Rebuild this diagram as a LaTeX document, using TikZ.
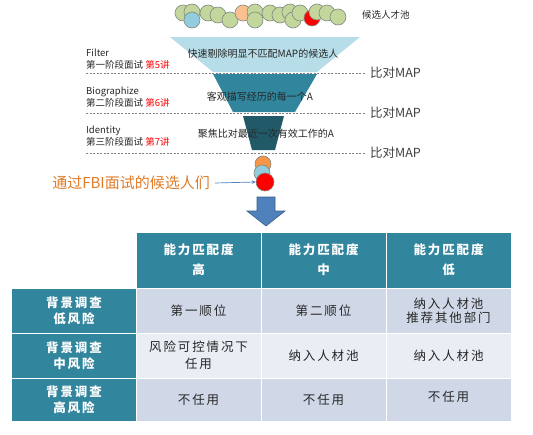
\documentclass[tikz,border=0pt]{standalone}
\usepackage{fontspec}
\setmainfont{Noto Sans CJK SC}
\newfontfamily\tabfont{Noto Sans CJK SC}[LetterSpace=15]
\usepackage{xcolor}
\usepackage{tikz}
\usetikzlibrary{arrows.meta}

\definecolor{bubgreen}{HTML}{C3D69B}
\definecolor{bubblue}{HTML}{93CDDD}
\definecolor{bubpeach}{HTML}{FAC090}
\definecolor{bubline}{HTML}{7F8A80}
\definecolor{passorange}{HTML}{F79646}
\definecolor{funnelA}{HTML}{B7DEE8}
\definecolor{funnelB}{HTML}{31859C}
\definecolor{funnelC}{HTML}{215968}
\definecolor{headteal}{HTML}{31859C}
\definecolor{rowdark}{HTML}{D0D8E8}
\definecolor{rowlight}{HTML}{E9EDF4}
\definecolor{arrowblue}{HTML}{4F81BD}
\definecolor{arrowedge}{HTML}{385D8A}
\definecolor{passtext}{HTML}{E07B27}
\definecolor{darktext}{HTML}{262626}
\definecolor{graytext}{HTML}{404040}
\definecolor{dashgray}{HTML}{808080}

\tikzset{
  bubble/.style={circle, draw=bubline, line width=0.6pt,
                 minimum size=16pt, inner sep=0pt},
  greenbub/.style={bubble, fill=bubgreen},
  bluebub/.style={bubble, fill=bubblue},
  peachbub/.style={bubble, fill=bubpeach},
  redbub/.style={bubble, fill=red},
  stagelabel/.style={anchor=west, align=left, inner sep=0pt,
                     font=\fontsize{9.5}{12}\selectfont, text=darktext},
  funneltext/.style={inner sep=0pt, font=\fontsize{10}{12}\selectfont,
                     text=darktext},
  cmplabel/.style={anchor=west, inner sep=0pt,
                   font=\fontsize{12.5}{14}\selectfont, text=graytext},
  dashline/.style={draw=dashgray, line width=0.7pt,
                   dash pattern=on 2pt off 1.5pt},
  cell/.style={rectangle, draw=white, line width=1pt,
               minimum width=125pt, inner sep=0pt, align=center,
               font=\tabfont\fontsize{12.5}{17}\selectfont},
  headcell/.style={cell, fill=headteal, text=white,
                   font=\tabfont\bfseries\fontsize{12.5}{20}\selectfont},
  rowcell/.style={cell, fill=headteal, text=white,
                  font=\tabfont\bfseries\fontsize{12.5}{16}\selectfont},
  darkcell/.style={cell, fill=rowdark, text=darktext},
  lightcell/.style={cell, fill=rowlight, text=darktext},
  thinarrow/.style={-{Stealth[length=4pt,width=3.5pt]}, draw=arrowblue,
                    line width=0.7pt}
}

\begin{document}
\begin{tikzpicture}[x=1pt, y=-1pt]
  \useasboundingbox (0,0) rectangle (533,434);

  % candidate pool
  \foreach \px/\py/\kind [count=\i] in {
      183/13/greenbub, 192/12/greenbub, 192/20/bluebub, 208/13/greenbub,
      218/15/greenbub, 230/20/greenbub, 243/13/peachbub, 255/12/greenbub,
      255/20/greenbub, 270/13/greenbub, 280/15/greenbub, 290/12/greenbub,
      293/20/greenbub, 300/13/greenbub, 312/18/redbub, 317/12/greenbub,
      327/13/greenbub, 338/17/greenbub}
    \node[\kind] (pool\i) at (\px,\py) {};
  \node[anchor=west, inner sep=0pt, font=\fontsize{9.5}{12}\selectfont,
        text=darktext] (poollbl) at (362,15) {候选人才池};

  % dashed stage borders
  \node[cmplabel] (cmp1) at (370,73)  {比对MAP};
  \node[cmplabel] (cmp2) at (370,113) {比对MAP};
  \node[cmplabel] (cmp3) at (370,153) {比对MAP};
  \draw[dashline, shorten >=4pt] (86,73)  -- (cmp1.west);
  \draw[dashline, shorten >=4pt] (86,113) -- (cmp2.west);
  \draw[dashline, shorten >=4pt] (86,153) -- (cmp3.west);

  % funnel
  \fill[funnelA] (170,37)  -- (360,37)  -- (317,72)  -- (213,72)  -- cycle;
  \fill[funnelB] (213,74)  -- (317,74)  -- (295,112) -- (233,112) -- cycle;
  \fill[funnelC] (243,116) -- (284,116) -- (275,150) -- (252,150) -- cycle;

  \node[funneltext] (f1txt) at (263,54)  {快速剔除明显不匹配MAP的候选人};
  \node[funneltext] (f2txt) at (260,97)  {客观描写经历的每一个A};
  \node[funneltext] (f3txt) at (266,134) {聚焦比对最近一次有效工作的A};

  \node[stagelabel] (stage1) at (86,59)
        {Filter\\第一阶段面试 \textcolor{red}{第5讲}};
  \node[stagelabel] (stage2) at (86,97.5)
        {Biographize\\第二阶段面试 \textcolor{red}{第6讲}};
  \node[stagelabel] (stage3) at (86,136)
        {Identity\\第三阶段面试 \textcolor{red}{第7讲}};

  % candidates that passed
  \node[bubble, fill=passorange] (pass1) at (263,164) {};
  \node[bubble, fill=bubblue]    (pass2) at (262,173) {};
  \node[bubble, fill=red, minimum size=18pt] (pass3) at (265,182) {};
  \node[anchor=east, inner sep=0pt, font=\fontsize{15}{17}\selectfont,
        text=passtext] (passlbl) at (210,183) {通过FBI面试的候选人们};
  \draw[thinarrow] ([xshift=5pt]passlbl.east) -- (pass3.west);

  % down arrow
  \filldraw[fill=arrowblue, draw=arrowedge, line width=0.6pt]
    (257,197) -- (275,197) -- (275,211) -- (285,211) -- (266,226)
    -- (247,211) -- (257,211) -- cycle;

  % matrix
  \node[headcell, minimum height=56pt] (colhigh) at (198.5,260) {能力匹配度\\高};
  \node[headcell, minimum height=56pt] (colmid)  at (323.5,260) {能力匹配度\\中};
  \node[headcell, minimum height=56pt] (collow)  at (448.5,260) {能力匹配度\\低};

  \node[rowcell, minimum height=45pt] (rowlow)  at (74,310.5) {背景调查\\低风险};
  \node[rowcell, minimum height=45pt] (rowmid)  at (74,355.5) {背景调查\\中风险};
  \node[rowcell, minimum height=43pt] (rowhigh) at (74,399.5) {背景调查\\高风险};

  \node[darkcell, minimum height=45pt] (c11) at (198.5,310.5) {第一顺位};
  \node[darkcell, minimum height=45pt] (c12) at (323.5,310.5) {第二顺位};
  \node[darkcell, minimum height=45pt,
        font=\tabfont\fontsize{12.5}{14}\selectfont]
        (c13) at (448.5,310.5) {纳入人材池\\推荐其他部门};

  \node[lightcell, minimum height=45pt] (c21) at (198.5,355.5) {风险可控情况下\\任用};
  \node[lightcell, minimum height=45pt] (c22) at (323.5,355.5) {纳入人材池};
  \node[lightcell, minimum height=45pt] (c23) at (448.5,355.5) {纳入人材池};

  \node[darkcell, minimum height=43pt] (c31) at (198.5,399.5) {不任用};
  \node[darkcell, minimum height=43pt] (c32) at (323.5,399.5) {不任用};
  \node[darkcell, minimum height=43pt] (c33) at (448.5,399.5)
        {\raisebox{7pt}{不任用}};

\end{tikzpicture}
\end{document}
